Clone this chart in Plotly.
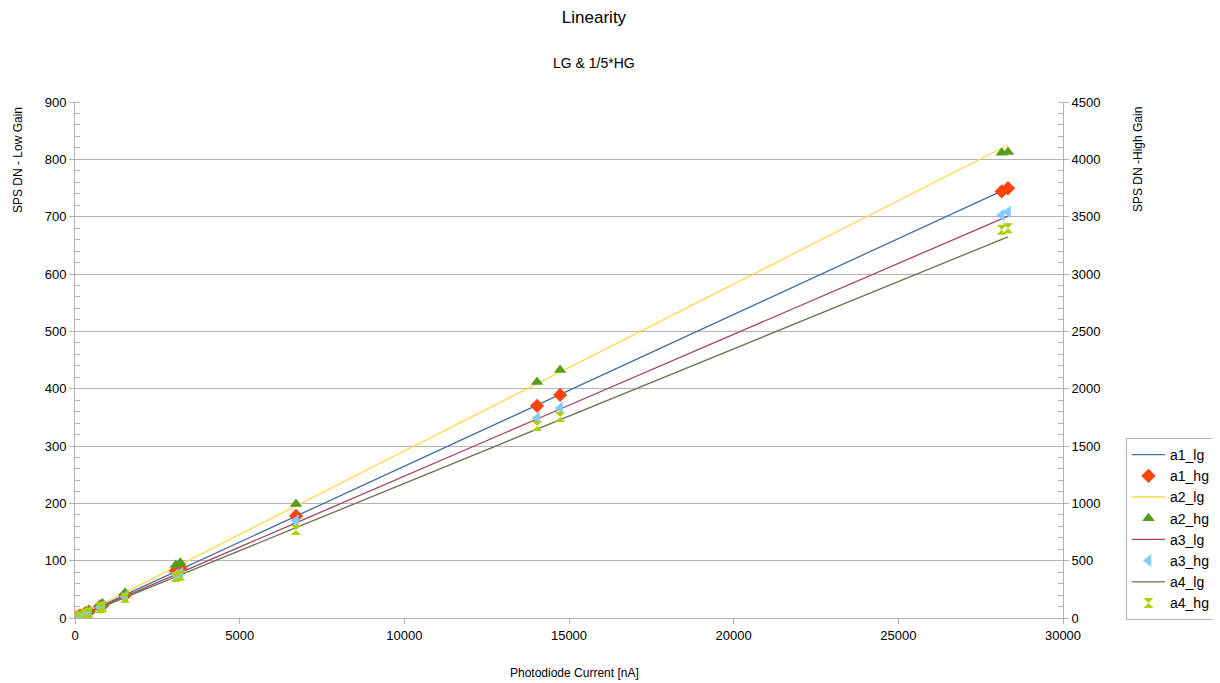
import plotly.graph_objects as go

# Photodiode current [nA]
current = [0, 60, 150, 310, 420, 760, 830, 1520, 3060, 3200, 6710, 14030, 14730, 28140, 28330]

# Low gain (left axis)
a1_lg = [0, 1.6, 4.0, 8.2, 11.1, 20.1, 22.0, 40.2, 81.0, 84.7, 177.6, 371.4, 389.9, 744.9, 749.9]
a2_lg = [0, 1.7, 4.4, 9.0, 12.2, 22.1, 24.2, 44.3, 89.1, 93.2, 195.4, 408.6, 428.9, 819.4, 825.0]
a3_lg = [0, 1.5, 3.7, 7.7, 10.4, 18.8, 20.5, 37.6, 75.7, 79.2, 166.0, 347.1, 364.4, 696.2, 700.9]
a4_lg = [0, 1.4, 3.5, 7.3, 9.9, 17.8, 19.5, 35.7, 71.8, 75.1, 157.5, 329.3, 345.7, 660.4, 664.9]

# High gain (right axis)
a1_hg = [0, 8, 20, 42, 56, 100, 110, 200, 410, 436, 890, 1850, 1945, 3720, 3748]
a2_hg = [0, 9, 23, 48, 63, 113, 124, 218, 462, 482, 994, 2058, 2163, 4058, 4065]
a3_hg = [0, 7, 18, 38, 51, 93, 102, 186, 378, 392, 849, 1744, 1832, 3515, 3540]
a4_hg = [0, 7, 17, 36, 48, 87, 96, 176, 358, 368, 768, 1674, 1753, 3385, 3400]

fig = go.Figure()

def line(name, y, color):
    fig.add_trace(go.Scatter(x=current, y=y, name=name, mode="lines",
                             line=dict(color=color, width=1.3), yaxis="y"))

def marks(name, y, color, symbol, size=10):
    fig.add_trace(go.Scatter(x=current, y=y, name=name, mode="markers",
                             marker=dict(color=color, symbol=symbol, size=size,
                                         line=dict(width=0)), yaxis="y2"))

line("a1_lg", a1_lg, "#3f6fa3")
marks("a1_hg", a1_hg, "#ff420e", "diamond", 11)
line("a2_lg", a2_lg, "#ffd84a")
marks("a2_hg", a2_hg, "#579d1c", "triangle-up", 11)
line("a3_lg", a3_lg, "#a8435f")
marks("a3_hg", a3_hg, "#83caff", "triangle-left", 11)
line("a4_lg", a4_lg, "#6b7152")
marks("a4_hg", a4_hg, "#aecf00", "hourglass", 10)

font = "Liberation Sans, Arial, sans-serif"
axis_common = dict(showline=True, linecolor="#b3b3b3", linewidth=1,
                   ticks="outside", ticklen=5, tickcolor="#b3b3b3",
                   tickfont=dict(size=13, color="#000000", family=font),
                   zeroline=False, automargin=False)

# page body has an 8px margin: figure is drawn offset by 8px
OFF = 8
FW, FH = 1220 - OFF, 683 - OFF
# plot area in screen pixels
L, R, T, B = 75, 1063, 102, 618
W, H = R - L, B - T

def px_to_paper_x(px):
    return (px - L) / W

def px_to_paper_y(py):
    return (B - py) / H

fig.update_layout(
    width=FW, height=FH,
    paper_bgcolor="white", plot_bgcolor="white",
    margin=dict(l=L - OFF, r=1220 - R, t=T - OFF, b=683 - B, autoexpand=False),
    font=dict(family=font, color="#000000"),
    title=dict(text="Linearity", x=(594 - OFF) / FW, xanchor="center",
               y=1 - (17 - OFF) / FH, yanchor="middle",
               font=dict(size=17, family=font)),
    annotations=[
        dict(text="LG &amp; 1/5*HG", xref="paper", yref="paper",
             x=px_to_paper_x(594), y=px_to_paper_y(63),
             xanchor="center", yanchor="middle", showarrow=False,
             font=dict(size=14, family=font)),
        dict(text="Photodiode Current [nA]", xref="paper", yref="paper",
             x=px_to_paper_x(574), y=px_to_paper_y(673),
             xanchor="center", yanchor="middle", showarrow=False,
             font=dict(size=12, family=font)),
        dict(text="SPS DN - Low Gain", xref="paper", yref="paper",
             x=px_to_paper_x(18), y=px_to_paper_y(160), textangle=-90,
             xanchor="center", yanchor="middle", showarrow=False,
             font=dict(size=12, family=font)),
        dict(text="SPS DN -High Gain", xref="paper", yref="paper",
             x=px_to_paper_x(1138), y=px_to_paper_y(160), textangle=-90,
             xanchor="center", yanchor="middle", showarrow=False,
             font=dict(size=12, family=font)),
    ],
    xaxis=dict(range=[0, 30000], dtick=5000, tickformat="d", showgrid=False, **axis_common),
    yaxis=dict(range=[0, 900], dtick=100, showgrid=True, gridcolor="#b3b3b3",
               minor=dict(dtick=20, ticks="inside", ticklen=5, tickcolor="#b3b3b3", showgrid=False),
               **axis_common),
    yaxis2=dict(range=[0, 4500], dtick=500, overlaying="y", side="right", showgrid=False,
                minor=dict(dtick=100, ticks="inside", ticklen=5, tickcolor="#b3b3b3", showgrid=False),
                **axis_common),
    legend=dict(x=px_to_paper_x(1126), y=px_to_paper_y(620), xanchor="left", yanchor="bottom",
                bordercolor="#b3b3b3", borderwidth=1, bgcolor="white",
                font=dict(size=14, family=font), tracegroupgap=0, itemwidth=33),
    showlegend=True,
)

fig.write_html("out.html")
